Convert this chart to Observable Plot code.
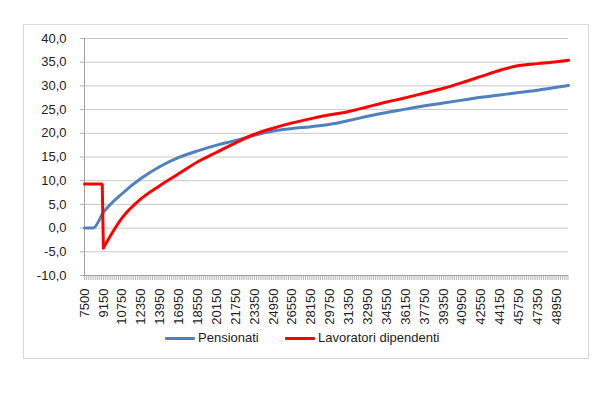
<!DOCTYPE html>
<html>
<head>
<meta charset="utf-8">
<script src="https://cdn.jsdelivr.net/npm/d3@7"></script>
<script src="https://cdn.jsdelivr.net/npm/@observablehq/plot@0.6"></script>
<style>
  html, body { margin: 0; padding: 0; background: #fff; }
  #wrap { position: relative; width: 611px; height: 399px; font-family: "Liberation Sans", Arial, sans-serif; }
  #box { position: absolute; left: 23px; top: 24px; width: 564px; height: 333px; border: 1px solid #d9d9d9; }
  #chart { position: absolute; left: 0; top: 0; }
  .leg { position: absolute; top: 330px; font-size: 13px; color: #222; line-height: 16px; display: flex; align-items: center; }
  .sw { display: inline-block; width: 30px; height: 3px; margin-right: 3px; border-radius: 1px; }
</style>
</head>
<body>
<div id="wrap">
  <div id="box"></div>
  <div id="chart"></div>
  <div class="leg" style="left:165px"><span class="sw" style="background:#4f81bd"></span>Pensionati</div>
  <div class="leg" style="left:285px"><span class="sw" style="background:#ff0000"></span>Lavoratori dipendenti</div>
</div>
<script>
// Category tick labels (income)
const tickLabels = ["7500","9150","10750","12350","13950","16950","18550","20150","21750","23350","24950","26550","28150","29750","31350","32950","34550","36150","37750","39350","40950","42550","44150","45750","47350","48950"];
const yTicks = [-10, -5, 0, 5, 10, 15, 20, 25, 30, 35, 40];

// Pensionati
const pensIncome = [7500, 8250, 9150, 10750, 12350, 13950, 16950, 18550, 20150, 21750, 23350, 24950, 26550, 28150, 29750, 31350, 32950, 34550, 36150, 37750, 39350, 40950, 42550, 44150, 45750, 47350, 48950, 49950];
const pensValue  = [0.0, 0.0, 3.3, 7.3, 10.5, 13.0, 14.9, 16.3, 17.5, 18.5, 19.6, 20.5, 21.0, 21.4, 21.9, 22.7, 23.6, 24.4, 25.1, 25.8, 26.4, 27.0, 27.6, 28.1, 28.6, 29.1, 29.7, 30.1];

// Lavoratori dipendenti
const lavIncome = [7500, 9050, 9150, 10750, 12350, 13950, 16950, 18550, 20150, 21750, 23350, 24950, 26550, 28150, 29750, 31350, 32950, 34550, 36150, 37750, 39350, 40950, 42550, 44150, 45750, 47350, 48950, 49950];
const lavValue  = [9.3, 9.3, -4.2, 2.2, 6.2, 9.0, 11.5, 14.0, 16.0, 18.0, 19.8, 21.1, 22.2, 23.1, 23.9, 24.6, 25.6, 26.6, 27.5, 28.5, 29.5, 30.7, 32.0, 33.3, 34.3, 34.7, 35.1, 35.4];

// category axis: income -> category position (labels equally spaced)
const toCat = d3.scaleLinear().domain(tickLabels.map(Number)).range(d3.range(tickLabels.length));
const lastCat = toCat(49950);

const pens = pensIncome.map((v, i) => ({x: toCat(v), y: pensValue[i]}));
const lav = lavIncome.map((v, i) => ({x: toCat(v), y: lavValue[i]}));
const lavStep = lav.slice(0, 3);   // flat part and drop
const lavRise = lav.slice(2);      // smooth rise after the drop

const fmt = d => d.toFixed(1).replace(".", ",");

const chart = Plot.plot({
  width: 611,
  height: 399,
  marginLeft: 84,
  marginRight: 43,
  marginTop: 38,
  marginBottom: 124,
  style: {fontFamily: "'Liberation Sans', Arial, sans-serif", fontSize: "13px", color: "#222", background: "transparent"},
  x: {type: "linear", domain: [0, lastCat]},
  y: {domain: [-10, 40]},
  marks: [
    Plot.ruleY(yTicks.filter(d => d > -10), {stroke: "#c8c8c8", strokeWidth: 1}),
    Plot.axisY({ticks: yTicks, tickFormat: fmt, tickSize: 4, tickPadding: 14, stroke: "#b0b0b0", label: null, fontSize: 13}),
    Plot.axisX({ticks: d3.range(0, lastCat, 0.1), tickSize: 5, text: null, stroke: "#a8a8a8", strokeWidth: 0.8, label: null}),
    Plot.axisX({ticks: d3.range(tickLabels.length), tickFormat: i => tickLabels[i], tickSize: 0, tickPadding: 13, tickRotate: -90, label: null, fontSize: 13}),
    Plot.ruleX([0], {stroke: "#a0a0a0"}),
    Plot.ruleY([-10], {stroke: "#a0a0a0"}),
    Plot.line(pens, {x: "x", y: "y", stroke: "#4f81bd", strokeWidth: 3, curve: "monotone-x"}),
    Plot.line(lavStep, {x: "x", y: "y", stroke: "#ff0000", strokeWidth: 3, curve: "linear", strokeLinejoin: "miter"}),
    Plot.line(lavRise, {x: "x", y: "y", stroke: "#ff0000", strokeWidth: 3, curve: "monotone-x"})
  ]
});
document.getElementById("chart").append(chart);
</script>
</body>
</html>
